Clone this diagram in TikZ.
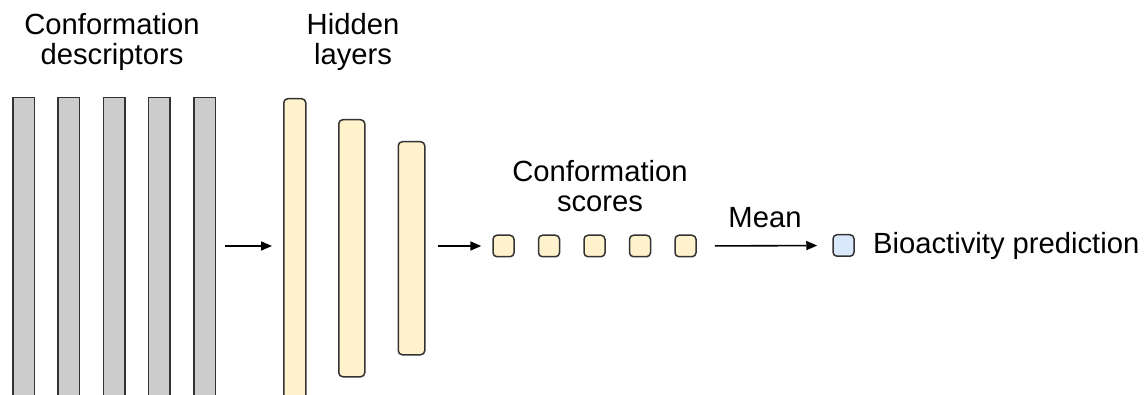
\documentclass[tikz,border=0pt]{standalone}
\usepackage{fontspec}
\setmainfont{Liberation Sans}
\usetikzlibrary{arrows.meta}
\definecolor{edgecol}{HTML}{333333}
\definecolor{descfill}{HTML}{CCCCCC}
\definecolor{hidfill}{HTML}{FFF2CC}
\definecolor{predfill}{HTML}{DAE8FC}
\tikzset{
  desc/.style={draw=edgecol, fill=descfill, line width=1.5pt, rectangle, inner sep=0pt,
               minimum width=21.5pt, minimum height=330pt, anchor=north west},
  hid/.style={draw=edgecol, fill=hidfill, line width=1.5pt, rectangle, rounded corners=4pt,
              inner sep=0pt, anchor=north west},
  score/.style={draw=edgecol, fill=hidfill, line width=1.5pt, rectangle, rounded corners=4pt,
                inner sep=0pt, minimum width=21pt, minimum height=21.5pt},
  pred/.style={draw=edgecol, fill=predfill, line width=1.5pt, rectangle, rounded corners=4pt,
               inner sep=0pt, minimum width=21pt, minimum height=21.5pt},
  lbl/.style={font=\fontsize{29.2}{30}\selectfont, inner sep=0pt, align=center, anchor=base},
  arr/.style={-{Triangle[length=11pt,width=9pt]}, line width=1.6pt, black},
}
\begin{document}
\begin{tikzpicture}[x=1pt,y=-1pt]
\useasboundingbox (0,0) rectangle (1146,395);
\clip (0,0) rectangle (1146,395);
\fill[white] (0,0) rectangle (1146,395);
% input descriptors
\node[desc] (d1) at (12,97) {};
\node[desc] (d2) at (57.3,97) {};
\node[desc] (d3) at (102.6,97) {};
\node[desc] (d4) at (147.9,97) {};
\node[desc] (d5) at (193.2,97) {};
% hidden layers
\node[hid, minimum width=22pt, minimum height=330pt] (h1) at (283,98) {};
\node[hid, minimum width=26pt, minimum height=257pt] (h2) at (338,119) {};
\node[hid, minimum width=26.5pt, minimum height=213pt] (h3) at (397.5,141) {};
% conformation scores
\node[score] (s1) at (503.5,246) {};
\node[score] (s2) at (549,246) {};
\node[score] (s3) at (594.5,246) {};
\node[score] (s4) at (640,246) {};
\node[score] (s5) at (685.5,246) {};
% prediction
\node[pred] (p) at (843.5,245.5) {};
% labels (base anchor = last line baseline)
\node[lbl] (tdesc) at (112,65) {Conformation\\descriptors};
\node[lbl] (thid) at (353,65) {Hidden\\layers};
\node[lbl] (tscore) at (600,212) {Conformation\\scores};
\node[lbl] (tmean) at (765,228) {Mean};
\node[font=\fontsize{29.2}{30}\selectfont, inner sep=0pt, anchor=base west] (tpred) at (873,254) {Bioactivity prediction};
% arrows
\draw[arr, shorten <=9pt, shorten >=11pt] (d5.east |- s1.center) -- (h1.west |- s1.center);
\draw[arr, shorten <=12pt, shorten >=11pt] (h3.east |- s1.center) -- (s1.west);
\draw[arr, shorten <=18pt, shorten >=15pt] (s5.east) -- (p.west);
\end{tikzpicture}
\end{document}
